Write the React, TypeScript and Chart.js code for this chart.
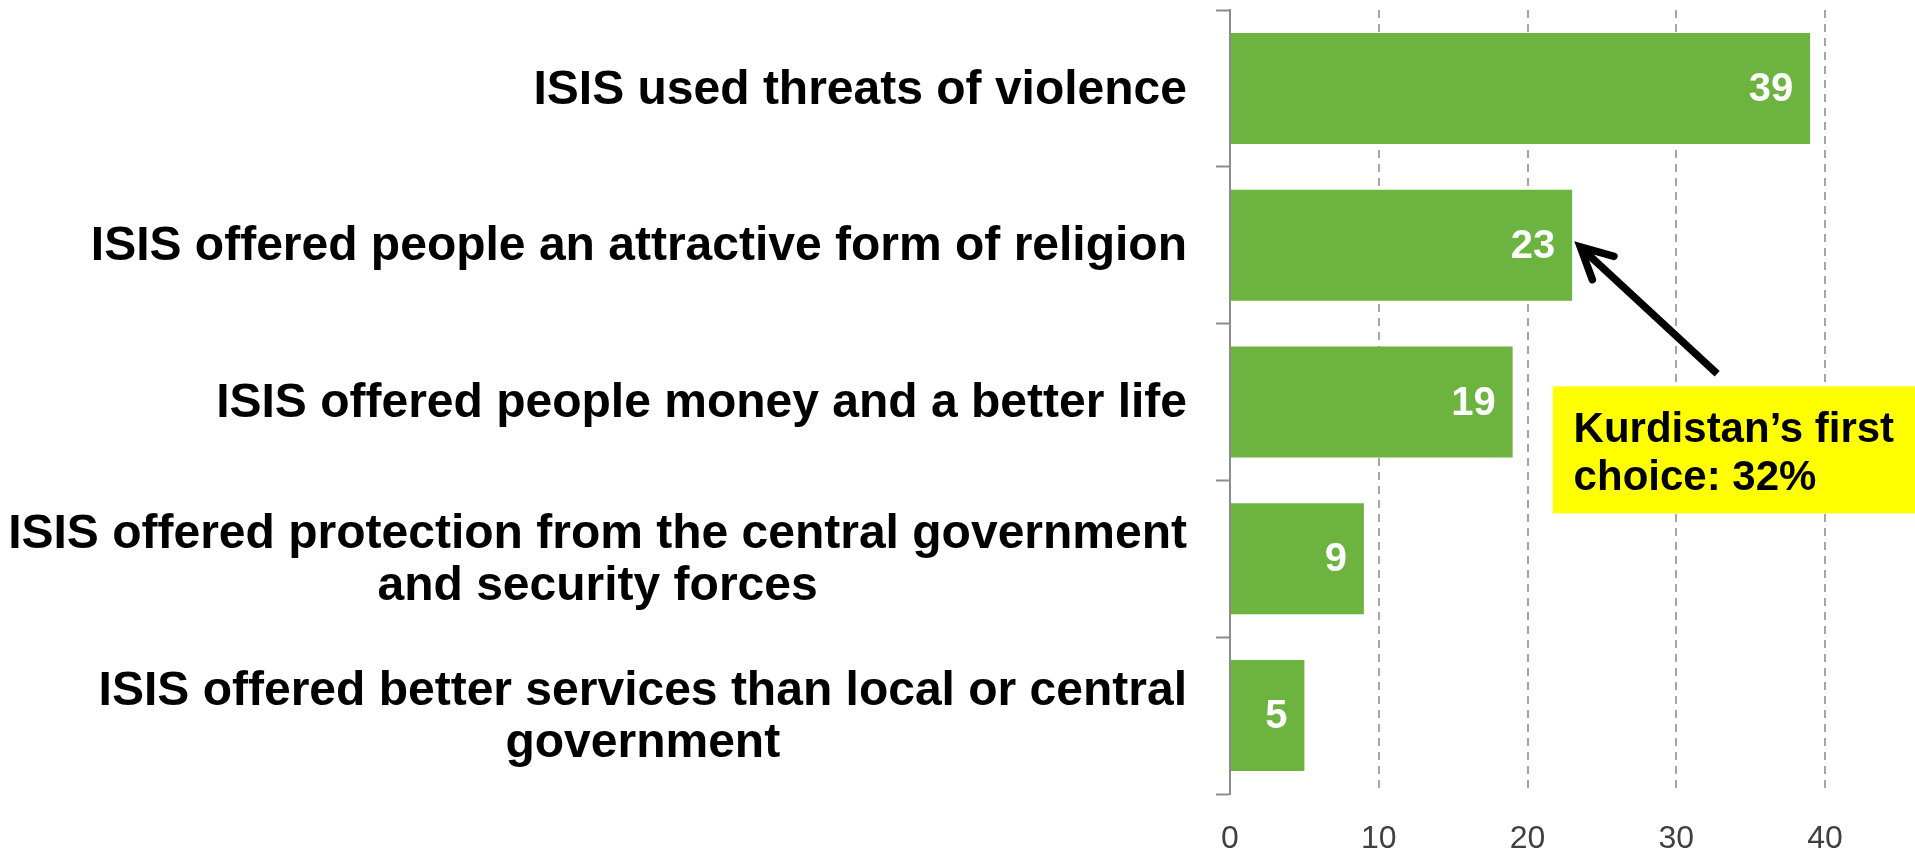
import React, { useEffect, useRef } from "react";
import { Chart, registerables } from "chart.js";

Chart.register(...registerables);

const categories: string[][] = [
  ["ISIS used threats of violence"],
  ["ISIS offered people an attractive form of religion"],
  ["ISIS offered people money and a better life"],
  ["ISIS offered protection from the central government", "and security forces"],
  ["ISIS offered better services than local or central", "government"],
];
const values: number[] = [39, 23, 19, 9, 5];
const xTicks: number[] = [0, 10, 20, 30, 40];
const calloutLines: string[] = ["Kurdistan\u2019s first", "choice: 32%"];

// annotation placement in data units (value, category index)
const callout = {
  boxLeft: 21.7,
  boxTop: 1.9,
  boxBottom: 2.71,
  textLeft: 23.1,
  lineIdx: [2.18, 2.49],
  arrowTip: [23.55, 1.01],
  arrowTail: [32.75, 1.82],
};

const FONT = "'Liberation Sans', Arial, Helvetica, sans-serif";

const overlayPlugin = {
  id: "overlay",
  afterDraw(chart: any) {
    const ctx = chart.ctx as CanvasRenderingContext2D;
    const xs = chart.scales.x;
    const ys = chart.scales.y;
    const area = chart.chartArea;

    // category labels
    ctx.save();
    ctx.font = `bold 48px ${FONT}`;
    ctx.fillStyle = "#000";
    ctx.textBaseline = "middle";
    ctx.textAlign = "center";
    const right = area.left - 43;
    const lh = 52;
    categories.forEach((lines, i) => {
      const cy = ys.getPixelForValue(i) + 2;
      const w = Math.max(...lines.map((l) => ctx.measureText(l).width));
      const cx = right - w / 2;
      lines.forEach((l, j) => {
        ctx.fillText(l, cx, cy + (j - (lines.length - 1) / 2) * lh);
      });
    });
    ctx.restore();

    // value labels
    ctx.save();
    ctx.font = `bold 40px ${FONT}`;
    ctx.fillStyle = "#fff";
    ctx.textBaseline = "middle";
    ctx.textAlign = "right";
    const meta = chart.getDatasetMeta(0);
    meta.data.forEach((bar: any, i: number) => {
      ctx.fillText(String(values[i]), bar.x - 17, bar.y + 1.5);
    });
    ctx.restore();

    // callout box
    ctx.save();
    const bl = xs.getPixelForValue(callout.boxLeft);
    const bt = ys.getPixelForValue(callout.boxTop);
    const bb = ys.getPixelForValue(callout.boxBottom);
    ctx.fillStyle = "#FFFF00";
    ctx.fillRect(bl, bt, chart.width - bl, bb - bt);
    ctx.font = `bold 42px ${FONT}`;
    ctx.fillStyle = "#000";
    ctx.textBaseline = "middle";
    ctx.textAlign = "left";
    calloutLines.forEach((l, j) => {
      ctx.fillText(l, xs.getPixelForValue(callout.textLeft), ys.getPixelForValue(callout.lineIdx[j]));
    });
    ctx.restore();

    // arrow
    ctx.save();
    const tx = xs.getPixelForValue(callout.arrowTip[0]);
    const ty = ys.getPixelForValue(callout.arrowTip[1]);
    const sx = xs.getPixelForValue(callout.arrowTail[0]);
    const sy = ys.getPixelForValue(callout.arrowTail[1]);
    ctx.strokeStyle = "#000";
    ctx.lineWidth = 7.5;
    ctx.lineCap = "butt";
    ctx.beginPath();
    ctx.moveTo(sx, sy);
    ctx.lineTo(tx + 5, ty + 5);
    ctx.stroke();
    const ang = Math.atan2(sy - ty, sx - tx);
    const len = 35;
    const spread = (27 * Math.PI) / 180;
    ctx.lineJoin = "miter";
    ctx.miterLimit = 10;
    ctx.lineCap = "round";
    ctx.beginPath();
    ctx.moveTo(tx + len * Math.cos(ang - spread), ty + len * Math.sin(ang - spread));
    ctx.lineTo(tx, ty);
    ctx.lineTo(tx + len * Math.cos(ang + spread), ty + len * Math.sin(ang + spread));
    ctx.stroke();
    ctx.restore();
  },
};

export default function App() {
  const ref = useRef<HTMLCanvasElement>(null);
  useEffect(() => {
    document.body.style.margin = "0";
    const chart = new Chart(ref.current!, {
      type: "bar",
      data: {
        labels: categories.map((c) => c.join(" ")),
        datasets: [
          {
            data: values,
            backgroundColor: "#6DB33F",
            borderWidth: 0,
            barPercentage: 0.708,
            categoryPercentage: 1,
          },
        ],
      },
      options: {
        indexAxis: "y",
        responsive: false,
        animation: false,
        devicePixelRatio: 1,
        layout: { padding: { top: 10, right: 90, left: 0, bottom: 0 } },
        plugins: { legend: { display: false }, tooltip: { enabled: false } },
        scales: {
          x: {
            min: 0,
            max: 40,
            afterBuildTicks: (s: any) => {
              s.ticks = xTicks.map((v) => ({ value: v }));
            },
            afterFit: (s: any) => {
              s.height = 57;
            },
            ticks: {
              color: "#404040",
              font: { size: 32, family: FONT },
              padding: 26,
            },
            grid: {
              color: (c: any) => (c.tick && c.tick.value === 0 ? "rgba(0,0,0,0)" : "#A6A6A6"),
              lineWidth: 2,
              drawTicks: false,
            },
            border: { display: false, dash: [8, 6] },
          },
          y: {
            afterFit: (s: any) => {
              s.width = 1230;
            },
            ticks: { display: false },
            grid: {
              drawOnChartArea: false,
              drawTicks: true,
              tickLength: 14,
              tickColor: "#8C8C8C",
              tickWidth: 2,
              offset: true,
            },
            border: { display: true, color: "#8C8C8C", width: 2 },
          },
        },
      },
      plugins: [overlayPlugin],
    });
    return () => chart.destroy();
  }, []);
  return (
    <div style={{ width: 1915, height: 851 }}>
      <canvas ref={ref} width={1915} height={851} />
    </div>
  );
}
